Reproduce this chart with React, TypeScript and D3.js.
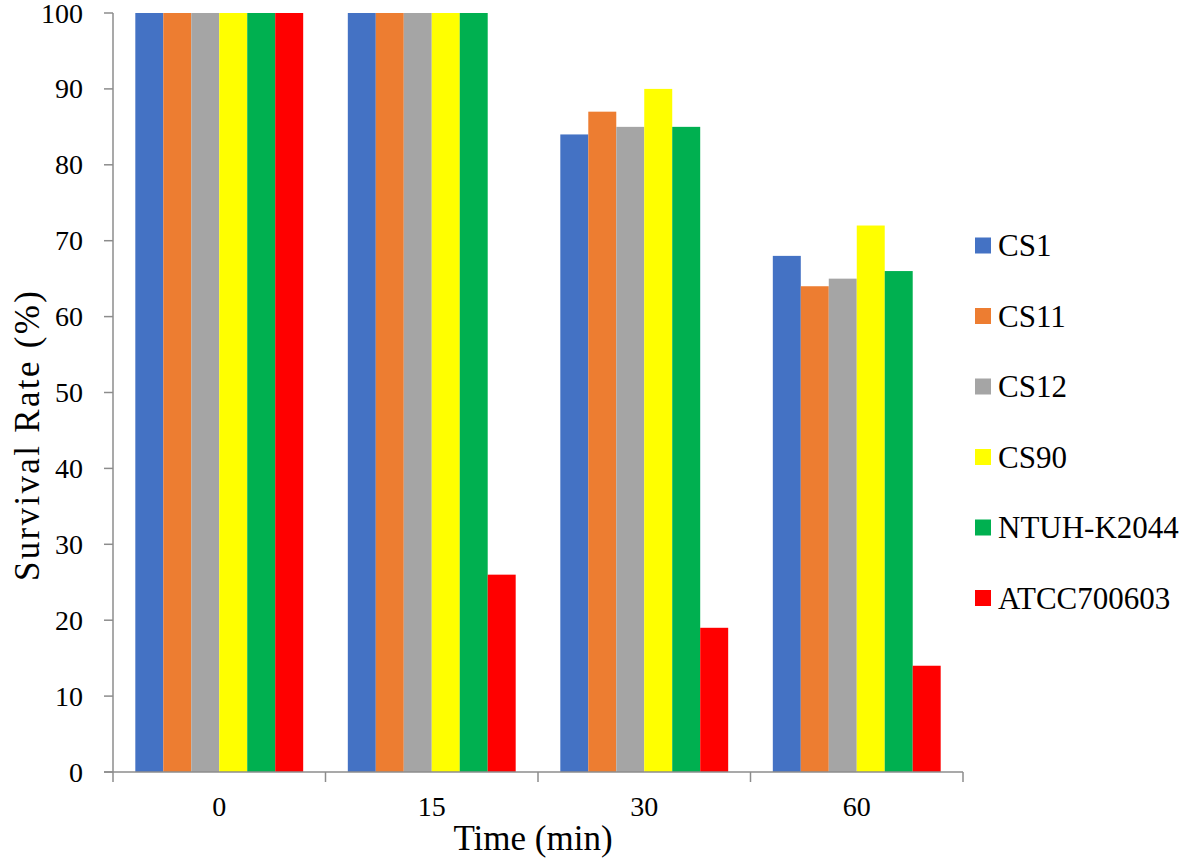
import React from "react";
import * as d3 from "d3";

const times = ["0", "15", "30", "60"];
const strains = ["CS1", "CS11", "CS12", "CS90", "NTUH-K2044", "ATCC700603"];
const colors = ["#4472C4", "#ED7D31", "#A5A5A5", "#FFFF00", "#00B050", "#FF0000"];
// survival rate per strain, one value per time point
const cs1 = [100, 100, 84, 68];
const cs11 = [100, 100, 87, 64];
const cs12 = [100, 100, 85, 65];
const cs90 = [100, 100, 90, 72];
const ntuh = [100, 100, 85, 66];
const atcc = [100, 26, 19, 14];
const series = [cs1, cs11, cs12, cs90, ntuh, atcc];
const yTicks = [0, 10, 20, 30, 40, 50, 60, 70, 80, 90, 100];

const W = 1181;
const H = 861;
const left = 113;
const right = 963;
const top = 13;
const bottom = 772;

const font = "'Liberation Serif', 'DejaVu Serif', serif";
const txt = { fontFamily: font } as React.CSSProperties;

export default function App() {
  const x0 = d3.scaleBand<string>().domain(times).range([left, right]).paddingInner(0.21).paddingOuter(0.105);
  const x1 = d3.scaleBand<string>().domain(strains).range([0, x0.bandwidth()]);
  const y = d3.scaleLinear().domain([0, 100]).range([bottom, top]);
  const step = (right - left) / times.length;
  const axisColor = "#8c8c8c";

  return (
    <svg width={W} height={H} style={{ position: "absolute", left: 0, top: 0, background: "#fff", fontFamily: font }}>
      {times.map((t, gi) => (
        <g key={t}>
          {strains.map((s, si) => {
            const v = series[si][gi];
            return (
              <rect
                key={s}
                x={(x0(t) ?? 0) + (x1(s) ?? 0)}
                y={y(v)}
                width={x1.bandwidth()}
                height={y(0) - y(v)}
                fill={colors[si]}
              />
            );
          })}
        </g>
      ))}
      {/* y axis */}
      <line x1={left} x2={left} y1={top} y2={bottom} stroke={axisColor} strokeWidth={1.5} />
      {yTicks.map((t) => (
        <g key={t}>
          <line x1={left - 9} x2={left} y1={y(t)} y2={y(t)} stroke={axisColor} strokeWidth={1.5} />
          <text x={83} y={y(t) + 9.5} textAnchor="end" fontSize={28} fill="#000" style={txt}>
            {t}
          </text>
        </g>
      ))}
      {/* x axis */}
      <line x1={left - 9} x2={right} y1={bottom} y2={bottom} stroke={axisColor} strokeWidth={1.5} />
      {d3.range(times.length + 1).map((i) => (
        <line key={i} x1={left + i * step} x2={left + i * step} y1={bottom} y2={bottom + 10} stroke={axisColor} strokeWidth={1.5} />
      ))}
      {times.map((t) => (
        <text key={t} x={(x0(t) ?? 0) + x0.bandwidth() / 2} y={816} textAnchor="middle" fontSize={28} fill="#000" style={txt}>
          {t}
        </text>
      ))}
      <text x={533} y={850} textAnchor="middle" fontSize={35} fill="#000" style={txt}>
        Time (min)
      </text>
      <text
        transform={`translate(39, 436) rotate(-90)`}
        textAnchor="middle"
        fontSize={35}
        textLength={290}
        lengthAdjust="spacing"
        fill="#000"
        style={txt}
      >
        Survival Rate (%)
      </text>
      {/* legend */}
      {strains.map((s, i) => {
        const ly = 245.5 + i * 70.5;
        return (
          <g key={s}>
            <rect x={975} y={ly - 8} width={16} height={16} fill={colors[i]} />
            <text x={998} y={ly + 10.5} fontSize={31} fill="#000" style={txt}>
              {s}
            </text>
          </g>
        );
      })}
    </svg>
  );
}
